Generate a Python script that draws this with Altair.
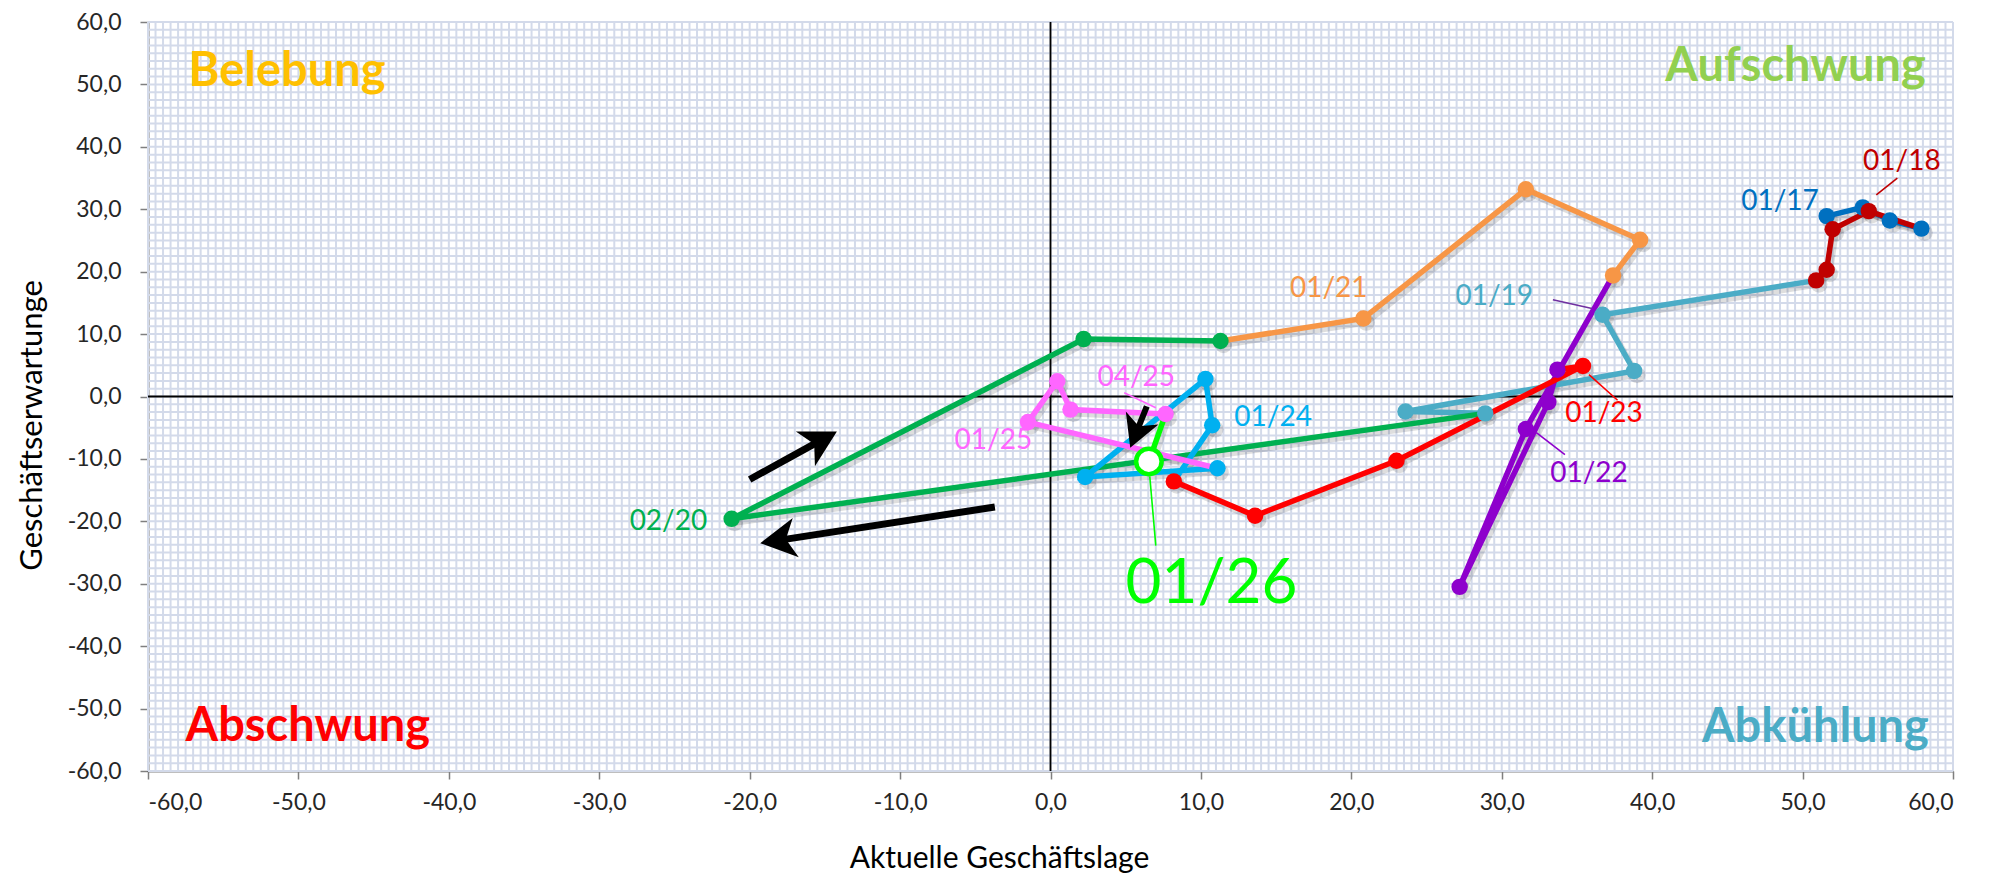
import math
import altair as alt
import numpy as np
import pandas as pd

# ---------------- data ----------------
series_names = ["2017", "2018", "2019", "2020", "2021", "2022", "2023", "2024", "2025", "2026"]
series_colors = ["#0070C0", "#C00000", "#4BACC6", "#00B050", "#F79646",
                 "#8E00CC", "#FF0000", "#00B0F0", "#FF66FF", "#00FF00"]

x_2017 = [51.6, 54.0, 55.8, 57.9]
y_2017 = [28.9, 30.3, 28.2, 26.9]
x_2018 = [54.4, 52.0, 51.6, 50.9]
y_2018 = [29.7, 26.8, 20.3, 18.6]
x_2019 = [36.7, 38.8, 23.6, 28.9]
y_2019 = [13.1, 4.1, -2.4, -2.7]
x_2020 = [-21.2, 2.2, 11.3]
y_2020 = [-19.6, 9.2, 8.9]
x_2021 = [20.8, 31.6, 39.2, 37.4]
y_2021 = [12.5, 33.2, 25.1, 19.4]
x_2022 = [31.6, 27.2, 33.1, 33.7]
y_2022 = [-5.2, -30.5, -0.9, 4.3]
x_2023 = [35.4, 23.0, 13.6, 8.2]
y_2023 = [4.9, -10.3, -19.1, -13.6]
x_2024 = [10.75, 10.3, 2.3, 11.1]
y_2024 = [-4.6, 2.8, -12.9, -11.5]
x_2025 = [-1.5, 0.45, 1.33, 7.65]
y_2025 = [-4.1, 2.45, -2.1, -2.8]
x_2026 = [6.54]
y_2026 = [-10.4]

series_x = [x_2017, x_2018, x_2019, x_2020, x_2021, x_2022, x_2023, x_2024, x_2025, x_2026]
series_y = [y_2017, y_2018, y_2019, y_2020, y_2021, y_2022, y_2023, y_2024, y_2025, y_2026]

label_text = ["01/17", "01/18", "01/19", "01/21", "01/22", "01/23", "01/24", "04/25", "01/25", "02/20", "01/26"]
label_x = [48.5, 56.6, 29.5, 18.5, 35.8, 36.8, 14.8, 5.7, -3.8, -25.4, 10.7]
label_y = [31.1, 37.6, 15.9, 17.3, -12.4, -2.8, -3.5, 3.0, -7.1, -20.1, -30.0]
label_color = ["#0070C0", "#C00000", "#4BACC6", "#F79646", "#8E00CC", "#FF0000",
               "#00B0F0", "#FF66FF", "#FF66FF", "#00B050", "#00FF00"]

leader_x = [54.9, 33.4, 32.3, 35.8, 4.9, 6.6]
leader_y = [32.3, 15.5, -5.8, 3.5, 0.6, -12.8]
leader_x2 = [56.3, 36.0, 34.2, 37.7, 7.0, 7.0]
leader_y2 = [35.0, 14.1, -9.3, -0.6, -1.8, -23.9]
leader_color = ["#C00000", "#7030A0", "#8E00CC", "#FF0000", "#FF66FF", "#00FF00"]

quad_text = ["Belebung", "Aufschwung", "Abschwung", "Abkühlung"]
quad_x = [-57.3, 58.2, -57.5, 58.4]
quad_y = [49.7, 50.5, -55.2, -55.3]
quad_color = ["#FFC000", "#92D050", "#FF0000", "#4BACC6"]

arrow_tail_x = [-20.0, -3.7, 6.4]
arrow_tail_y = [-13.3, -17.7, -1.6]
arrow_tip_x = [-14.2, -19.3, 5.3]
arrow_tip_y = [-5.6, -23.5, -8.2]

x_ticks = [-60, -50, -40, -30, -20, -10, 0, 10, 20, 30, 40, 50, 60]
y_ticks = [-60, -50, -40, -30, -20, -10, 0, 10, 20, 30, 40, 50, 60]

# ---------------- layout ----------------
W, H = 1805, 749
FONT = "Lato"
px_x = W / 120.0
px_y = H / 120.0

# path table: every year's line starts at the last point of the previous year
rows, marks = [], []
for i, name in enumerate(series_names):
    pts = list(zip(series_x[i], series_y[i]))
    path = ([(series_x[i - 1][-1], series_y[i - 1][-1])] if i > 0 else []) + pts
    for k, (xv, yv) in enumerate(path):
        rows.append({"series": name, "order": k, "x": xv, "y": yv})
    for xv, yv in pts:
        marks.append({"series": name, "x": xv, "y": yv})
df_path = pd.DataFrame(rows)
df_marks = pd.DataFrame(marks)
df_main_marks = df_marks[df_marks.series != "2026"]
df_last = df_marks[df_marks.series == "2026"]

xs = alt.Scale(domain=[-60, 60], nice=False, zero=False)
ys = alt.Scale(domain=[-60, 60], nice=False, zero=False)
lab = "(datum.value < 0 ? '-' : '') + replace(format(abs(datum.value), '.1f'), '.', ',')"

xaxis = alt.Axis(values=x_ticks, grid=False, labelExpr=lab, labelFont=FONT, labelFontSize=23,
                 labelColor="#262626", labelPadding=12, tickSize=8, tickColor="#7F7F7F", tickWidth=1.5,
                 domainColor="#7F7F7F", domainWidth=2, title="Aktuelle Geschäftslage",
                 titleFont=FONT, titleFontSize=30, titleFontWeight="normal", titleColor="#000000",
                 titleX=851, titleY=96, titleBaseline="alphabetic", titleAlign="center", orient="bottom")
yaxis = alt.Axis(values=y_ticks, grid=False, labelExpr=lab, labelFont=FONT, labelFontSize=23,
                 labelColor="#262626", labelPadding=19, tickSize=8, tickColor="#7F7F7F", tickWidth=1.5,
                 domainColor="#000000", domainWidth=1.5, title="Geschäftserwartunge",
                 titleFont=FONT, titleFontSize=31, titleFontWeight="normal", titleColor="#000000",
                 titleX=-107, titleY=403, titleAngle=270, titleBaseline="alphabetic",
                 titleAlign="center", orient="left")


def X(f="x"):
    return alt.X(f, type="quantitative", scale=xs, axis=xaxis)


def Y(f="y"):
    return alt.Y(f, type="quantitative", scale=ys, axis=yaxis)


layers = []

# background grid pattern (fine light lines)
grid_x = pd.DataFrame({"x": np.arange(-60, 60.01, 0.5)})
grid_y = pd.DataFrame({"y": np.arange(-60, 60.01, 1.25)})
layers.append(alt.Chart(grid_x).mark_rule(color="#D3DAEA", strokeWidth=2).encode(x=X()))
layers.append(alt.Chart(grid_y).mark_rule(color="#D3DAEA", strokeWidth=2).encode(y=Y()))

# zero lines
zero = pd.DataFrame({"x": [0], "y": [0]})
layers.append(alt.Chart(zero).mark_rule(color="#000000", strokeWidth=1.8).encode(x=X()))
layers.append(alt.Chart(zero).mark_rule(color="#000000", strokeWidth=1.8).encode(y=Y()))

# quadrant labels
df_quad = pd.DataFrame({"t": quad_text, "x": quad_x, "y": quad_y, "c": quad_color})
for idx, al in [([0, 2], "left"), ([1, 3], "right")]:
    layers.append(alt.Chart(df_quad.iloc[idx]).mark_text(
        font=FONT, fontSize=47, fontWeight="bold", align=al, baseline="alphabetic").encode(
        x=X(), y=Y(), text="t:N", color=alt.Color("c:N", scale=None)))

color_enc = alt.Color("series:N", scale=alt.Scale(domain=series_names, range=series_colors), legend=None)

# shadows
layers.append(alt.Chart(df_path).mark_line(strokeWidth=6, color="#000000", opacity=0.13,
                                           xOffset=3, yOffset=4).encode(
    x=X(), y=Y(), detail="series:N", order="order:Q"))
layers.append(alt.Chart(df_marks).mark_circle(size=280, color="#000000", opacity=0.13,
                                              xOffset=3, yOffset=4).encode(x=X(), y=Y()))

# trajectories
layers.append(alt.Chart(df_path).mark_line(strokeWidth=5.5).encode(
    x=X(), y=Y(), color=color_enc, detail="series:N", order="order:Q"))
layers.append(alt.Chart(df_main_marks).mark_circle(size=270, opacity=1).encode(
    x=X(), y=Y(), color=color_enc))

# leader lines
df_lead = pd.DataFrame({"x": leader_x, "y": leader_y, "x2": leader_x2, "y2": leader_y2, "c": leader_color})
layers.append(alt.Chart(df_lead).mark_rule(strokeWidth=1.6).encode(
    x=X(), y=Y(), x2="x2:Q", y2="y2:Q", color=alt.Color("c:N", scale=None)))

# current point
layers.append(alt.Chart(df_last).mark_point(shape="circle", filled=True, fill="#FFFFFF",
                                            stroke="#00FF00", strokeWidth=4.5, size=650, opacity=1).encode(
    x=X(), y=Y()))

# labels
df_lab = pd.DataFrame({"t": label_text, "x": label_x, "y": label_y, "c": label_color})
df_lab["fs"] = [62 if t == "01/26" else 28 for t in label_text]
for fs in [28, 62]:
    layers.append(alt.Chart(df_lab[df_lab.fs == fs]).mark_text(
        font=FONT, fontSize=fs, align="center", baseline="middle").encode(
        x=X(), y=Y(), text="t:N", color=alt.Color("c:N", scale=None)))

# arrows
head_len = [36, 36, 32]
shaft_w = [7, 7, 6]
arr = []
for i in range(len(arrow_tail_x)):
    dxp = (arrow_tip_x[i] - arrow_tail_x[i]) * px_x
    dyp = -(arrow_tip_y[i] - arrow_tail_y[i]) * px_y
    lp = math.hypot(dxp, dyp)
    ang = math.degrees(math.atan2(dxp, -dyp)) % 360
    f = 1 - 0.6 * head_len[i] / lp
    arr.append({"x": arrow_tail_x[i], "y": arrow_tail_y[i],
                "x2": arrow_tail_x[i] + (arrow_tip_x[i] - arrow_tail_x[i]) * f,
                "y2": arrow_tail_y[i] + (arrow_tip_y[i] - arrow_tail_y[i]) * f,
                "tx": arrow_tip_x[i], "ty": arrow_tip_y[i], "ang": ang,
                "sz": 4 * head_len[i] ** 2, "w": shaft_w[i]})
df_arr = pd.DataFrame(arr)
layers.append(alt.Chart(df_arr).mark_rule(color="#000000").encode(
    x=X(), y=Y(), x2="x2:Q", y2="y2:Q", strokeWidth=alt.StrokeWidth("w:Q", scale=None)))
layers.append(alt.Chart(df_arr).mark_point(
    shape="M0,0 L0.55,1 L0,0.72 L-0.55,1 Z", filled=True, color="#000000", opacity=1).encode(
    x=X("tx"), y=Y("ty"), angle=alt.Angle("ang:Q", scale=None), size=alt.Size("sz:Q", scale=None)))

chart = alt.layer(*layers).properties(
    width=W, height=H,
    autosize=alt.AutoSizeParams(type="none"),
    padding={"left": 140, "top": 14, "right": 28, "bottom": 106},
    background="#FFFFFF",
).configure_view(strokeWidth=0)

chart.save("out.html", embed_options={"renderer": "svg", "actions": False})
